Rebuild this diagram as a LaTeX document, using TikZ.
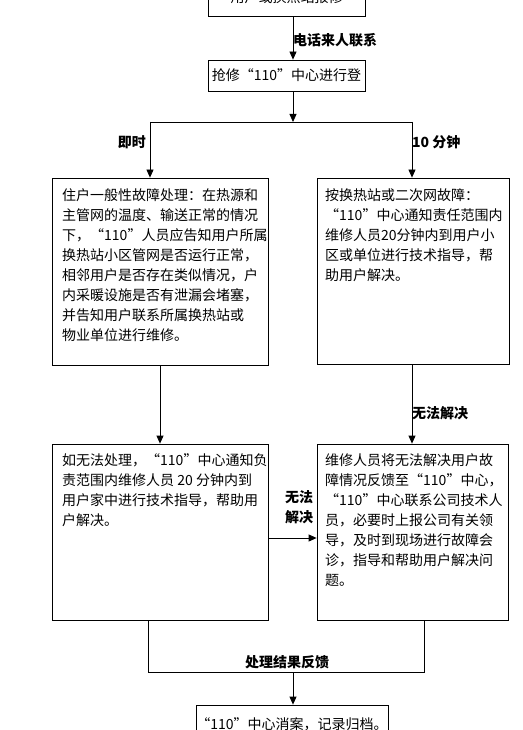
\documentclass[tikz,border=0pt]{standalone}
\usepackage{fontspec}
\setmainfont{Noto Sans CJK SC}
\usetikzlibrary{arrows.meta}
\begin{document}
\begin{tikzpicture}[x=1pt,y=-1pt,
  box/.style={draw=black,line width=0.8pt,inner sep=0pt},
  body/.style={inner sep=0pt,align=left,anchor=north west,font={\fontsize{14}{20}\selectfont}},
  lab/.style={inner sep=0pt,font={\fontsize{14}{20}\selectfont\bfseries}},
  ln/.style={line width=0.8pt},
  arr/.style={line width=0.8pt,-{Triangle[width=7pt,length=8pt]}}]
\useasboundingbox (0,0) rectangle (522,730);
% boxes
\node[box,minimum width=157pt,minimum height=37pt,font={\fontsize{14}{20}\selectfont}] (top) at (286.5,-2.5) {用户或换热站报修};
\node[box,minimum width=157pt,minimum height=31pt,font={\fontsize{14}{20}\selectfont}] (reg) at (286.5,75.5) {抢修“110”中心进行登};
\node[box,minimum width=216pt,minimum height=187pt] (L1) at (160,271.5) {};
\node[box,minimum width=192pt,minimum height=186pt] (R1) at (413,271) {};
\node[box,minimum width=216pt,minimum height=176pt] (L2) at (160,532) {};
\node[box,minimum width=191pt,minimum height=176pt] (R2) at (412.5,532) {};
\node[box,minimum width=192pt,minimum height=38pt,font={\fontsize{14}{20}\selectfont}] (fin) at (292,724) {“110”中心消案，记录归档。};
% box texts
\node[body] (L1t) at (62,188) {住户一般性故障处理：在热源和\\主管网的温度、输送正常的情况\\下，“110”人员应告知用户所属\\换热站小区管网是否运行正常，\\相邻用户是否存在类似情况，户\\内采暖设施是否有泄漏会堵塞，\\并告知用户联系所属换热站或\\物业单位进行维修。};
\node[body] (R1t) at (325,188) {按换热站或二次网故障：\\“110”中心通知责任范围内\\维修人员20分钟内到用户小\\区或单位进行技术指导，帮\\助用户解决。};
\node[body] (L2t) at (62,453) {如无法处理，“110”中心通知负\\责范围内维修人员 20 分钟内到\\用户家中进行技术指导，帮助用\\户解决。};
\node[body] (R2t) at (325,453) {维修人员将无法解决用户故\\障情况反馈至“110”中心，\\“110”中心联系公司技术人\\员，必要时上报公司有关领\\导，及时到现场进行故障会\\诊，指导和帮助用户解决问\\题。};
% helper coordinates
\coordinate (cx) at (293,0);
\coordinate (sl) at (150,122);
\coordinate (sm) at (293,122);
\coordinate (sr) at (412,122);
\coordinate (hy) at (0,538);
\coordinate (bl) at (148,672);
\coordinate (bm) at (293,672);
\coordinate (br) at (424,672);
% connectors
\draw[arr] (top.south -| cx) -- (reg.north -| cx);
\draw[arr] (reg.south -| cx) -- (sm);
\draw[ln] (sl) -- (sr);
\draw[arr] (sl) -- (L1.north -| sl);
\draw[arr] (sr) -- (R1.north -| sr);
\draw[arr] (L1.south) -- (L2.north);
\draw[arr] (R1.south -| sr) -- (R2.north -| sr);
\draw[arr] (L2.east |- hy) -- (R2.west |- hy);
\draw[ln] (L2.south -| bl) -- (bl) -- (br) -- (R2.south -| br);
\draw[arr] (bm) -- (fin.north -| bm);
% labels
\node[lab,anchor=west] (l1) at (293,40) {电话来人联系};
\node[lab,anchor=east] (l2) at (146,142) {即时};
\node[lab,anchor=west] (l3) at (412,142) {10 分钟};
\node[lab,anchor=west] (l4) at (412,413) {无法解决};
\node[lab,align=center] (l5) at (299,507.5) {无法\\解决};
\node[lab] (l6) at (287,662) {处理结果反馈};
\end{tikzpicture}
\end{document}
